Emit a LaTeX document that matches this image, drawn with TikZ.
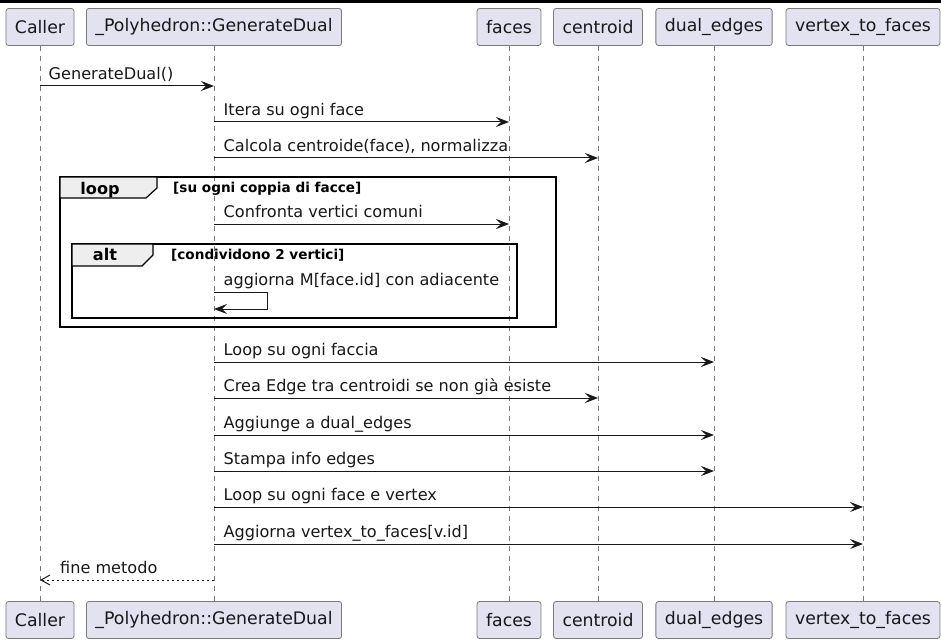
\documentclass[tikz,border=0pt]{standalone}
\usepackage{fontspec}
\setmainfont{DejaVu Sans}
\usetikzlibrary{arrows.meta}

\definecolor{partfill}{HTML}{E2E2F0}
\definecolor{ink}{HTML}{181818}
\definecolor{lifegray}{HTML}{7A7A7A}
\definecolor{tabfill}{HTML}{EEEEEE}

\tikzset{
  participant/.style={draw=lifegray, line width=0.8pt, fill=partfill,
    rounded corners=2.5pt, minimum height=37pt, inner xsep=9pt, inner ysep=0pt,
    font=\fontsize{17.3}{20}\selectfont, text=ink},
  lifeline/.style={draw=lifegray, line width=0.8pt, dash pattern=on 5pt off 5pt},
  msg/.style={draw=ink, line width=1pt, -{Stealth[length=13pt,width=10pt,inset=5pt]}},
  reply/.style={draw=ink, line width=1pt, dash pattern=on 2.5pt off 2.5pt,
    -{Straight Barb[length=9pt,width=10pt,line width=1pt]}},
  msglabel/.style={anchor=base west, inner sep=0pt,
    font=\fontsize{16.1}{19}\selectfont, text=ink},
  frameline/.style={draw=black, line width=1.6pt},
  tabshape/.style={draw=black, line width=1.2pt, fill=tabfill},
  framekw/.style={anchor=base, inner sep=0pt,
    font=\bfseries\fontsize{16.1}{19}\selectfont, text=black},
  guard/.style={anchor=base west, inner sep=0pt,
    font=\bfseries\fontsize{13.6}{16}\selectfont, text=black},
}

\begin{document}
\begin{tikzpicture}[x=1pt,y=-1pt]
\useasboundingbox (0,0) rectangle (941,639);
\fill[black] (0,0) rectangle (941,3);

% participants, head and foot
\foreach \id/\x/\name in {caller/40/Caller, poly/214/\_Polyhedron::GenerateDual,
    faces/509/faces, centroid/598/centroid, dual/714/dual\_edges,
    vtf/863/vertex\_to\_faces}{
  \node[participant] (\id T) at (\x,27) {\name};
  \node[participant] (\id B) at (\x,620) {\name};
  \draw[lifeline] (\id T.south) -- (\id B.north);
}

% combined fragments
\draw[frameline] (60,177) rectangle (556,327);
\draw[tabshape] (60,177) -- (157,177) -- (157,188) -- (146,198) -- (60,198) -- cycle;
\node[framekw] (loopkw) at (100,194) {loop};
\node[guard] (loopguard) at (173,193) {[su ogni coppia di facce]};

\draw[frameline] (72,244) rectangle (517,318);
\draw[tabshape] (72,244) -- (153,244) -- (153,255) -- (142,266) -- (72,266) -- cycle;
\node[framekw] (altkw) at (105,260) {alt};
\node[guard] (altguard) at (171,259) {[condividono 2 vertici]};

% messages
\coordinate (m1a) at (callerT |- 0,86);  \coordinate (m1b) at (polyT |- 0,86);
\draw[msg] (m1a) -- (m1b);
\path (m1a) ++(8.5,-6.5) node[msglabel] {GenerateDual()};

\foreach \n/\dst/\y/\txt in {
    2/faces/122/{Itera su ogni face},
    3/centroid/158/{Calcola centroide(face), normalizza},
    4/faces/224/{Confronta vertici comuni},
    6/dual/362/{Loop su ogni faccia},
    7/centroid/398/{Crea Edge tra centroidi se non già esiste},
    8/dual/435/{Aggiunge a dual\_edges},
    9/dual/471/{Stampa info edges},
    10/vtf/507/{Loop su ogni face e vertex},
    11/vtf/544/{Aggiorna vertex\_to\_faces[v.id]}}{
  \coordinate (m\n a) at (polyT |- 0,\y);
  \coordinate (m\n b) at (\dst T |- 0,\y);
  \draw[msg] (m\n a) -- (m\n b);
  \path (m\n a) ++(9.5,-6.5) node[msglabel] {\txt};
}

% self message
\coordinate (m5a) at (polyT |- 0,292);
\coordinate (m5b) at (polyT |- 0,309);
\draw[msg] (m5a) -- ++(53,0) -- ++(0,17) -- (m5b);
\path (m5a) ++(9.5,-6.5) node[msglabel] {aggiorna M[face.id] con adiacente};

% return
\coordinate (m12a) at (polyT |- 0,580);
\coordinate (m12b) at (callerT |- 0,580);
\draw[reply] (m12a) -- (m12b);
\path (m12b) ++(20,-6.5) node[msglabel] {fine metodo};
\end{tikzpicture}
\end{document}
